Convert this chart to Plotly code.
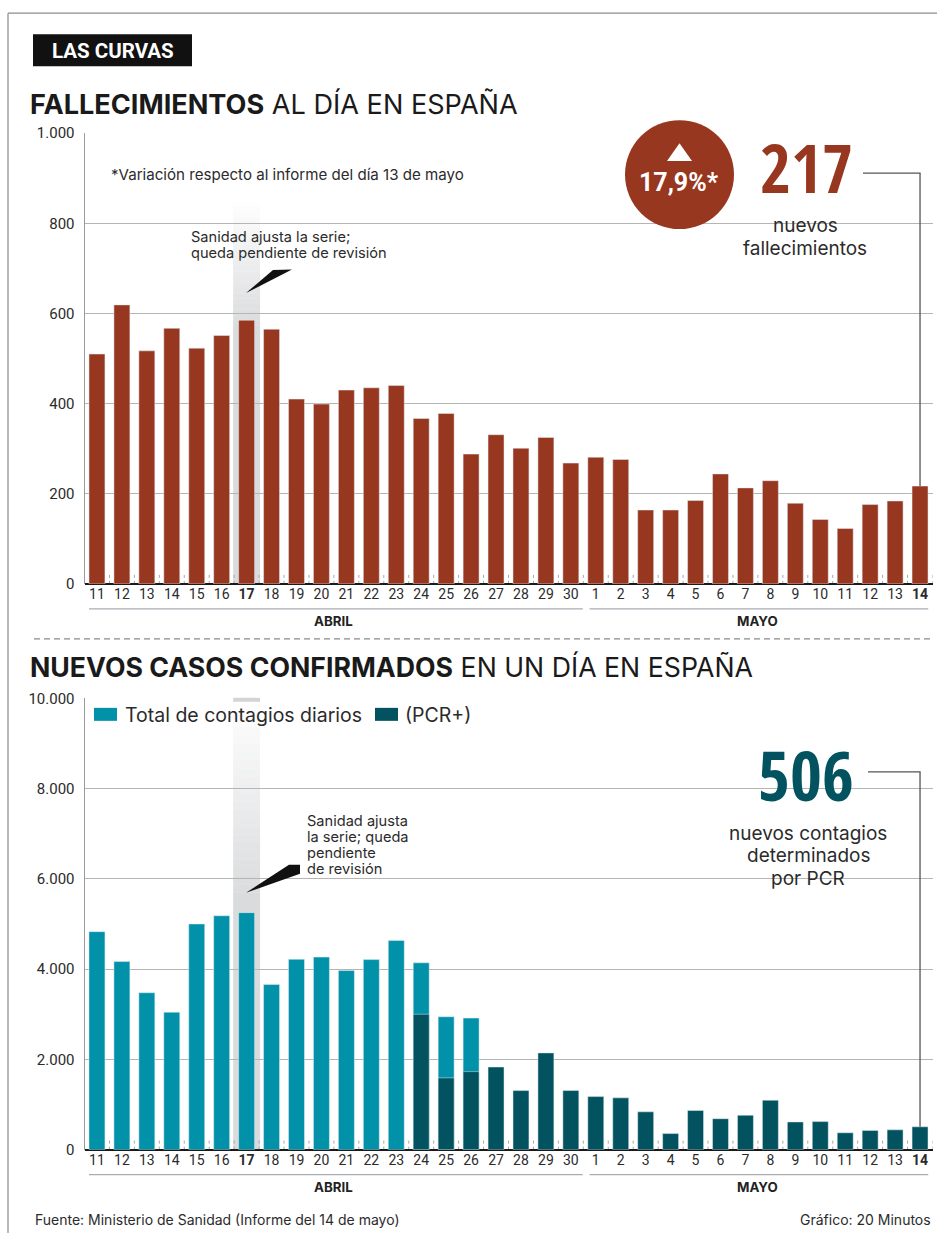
import plotly.graph_objects as go

W, H = 937, 1242

# ---------------- data ----------------
days = ["11", "12", "13", "14", "15", "16", "17", "18", "19", "20", "21", "22", "23",
        "24", "25", "26", "27", "28", "29", "30",
        "1", "2", "3", "4", "5", "6", "7", "8", "9", "10", "11", "12", "13", "14"]
bold_idx = [6, 33]
months = ["ABRIL", "MAYO"]
month_span = [(0, 19), (20, 33)]

deaths = [510, 619, 517, 567, 523, 551, 585, 565, 410, 399, 430, 435, 440, 367, 378, 288,
          331, 301, 325, 268, 281, 276, 164, 164, 185, 244, 213, 229, 179, 143, 123, 176,
          184, 217]

total_cases = [4830, 4167, 3477, 3045, 5000, 5183, 5252, 3658, 4218, 4266, 3968, 4211,
               4635, 4140, 2944, 2915] + [None] * 18
pcr_cases = [None] * 13 + [3000, 1590, 1729, 1831, 1308, 2144, 1309, 1175, 1147, 838,
                           356, 867, 685, 762, 1095, 614, 621, 373, 426, 439, 506]

deaths_ticks = [0, 200, 400, 600, 800, 1000]
deaths_ticktext = ["0", "200", "400", "600", "800", "1.000"]
cases_ticks = [0, 2000, 4000, 6000, 8000, 10000]
cases_ticktext = ["0", "2.000", "4.000", "6.000", "8.000", "10.000"]

RED = "#97371f"
TEAL = "#0191a8"
DTEAL = "#02535f"
TXT = "#2b2b2b"
GRID = "#b5b5b5"
FONT = "Inter, Roboto, 'Open Sans', sans-serif"
TICKFONT = "Roboto, 'Open Sans', sans-serif"
BIG = ("'Noto Sans ExtraCondensed', 'Open Sans Condensed', 'Noto Sans Condensed', "
       "'Roboto Condensed', 'Liberation Sans Narrow', Roboto, sans-serif")

# vertical placement calibration (page pixel -> paper)
OFF, SC = 7.8, 0.986


def px(x):
    return x / W


def py(y):
    return 1 - ((y - OFF) / SC) / H


n = len(days)
xs = list(range(n))
ticktext = [f"<b>{d}</b>" if i in bold_idx else d for i, d in enumerate(days)]

fig = go.Figure()
fig.add_trace(go.Bar(x=xs, y=deaths, marker_color=RED, width=0.64, showlegend=False,
                     xaxis="x", yaxis="y", name="Fallecimientos"))
fig.add_trace(go.Bar(x=xs, y=total_cases, marker_color=TEAL, width=0.64, showlegend=False,
                     xaxis="x2", yaxis="y2", name="Total de contagios diarios"))
fig.add_trace(go.Bar(x=xs, y=pcr_cases, marker_color=DTEAL, width=0.64, showlegend=False,
                     xaxis="x2", yaxis="y2", name="(PCR+)"))

XDOM = [px(84.5), px(932.5)]
TOP_PX, TOP_BASE = 132, 583
BOT_PX, BOT_BASE = 697.5, 1149
top_dom = [py(TOP_BASE), py(TOP_PX)]
bot_dom = [py(BOT_BASE), py(BOT_PX)]

common_x = dict(domain=XDOM, range=[-0.5, n - 0.5], tickmode="array", tickvals=xs,
                ticktext=ticktext, showgrid=False, zeroline=False, showline=False,
                ticks="", tickfont=dict(size=14, color=TXT, family=TICKFONT), fixedrange=True)
common_y = dict(gridcolor=GRID, gridwidth=1, showline=True, linecolor="#9a9a9a", linewidth=1,
                zeroline=True, zerolinecolor="#1a1a1a", zerolinewidth=2, ticks="",
                ticklabelstandoff=6, tickfont=dict(size=15, color=TXT, family=TICKFONT),
                fixedrange=True, tickmode="array")

fig.update_layout(
    width=W, height=H, autosize=False,
    margin=dict(l=0, r=0, t=0, b=0),
    paper_bgcolor="white", plot_bgcolor="rgba(0,0,0,0)",
    barmode="overlay", font=dict(family=FONT, color=TXT),
    xaxis=dict(common_x, anchor="y"),
    yaxis=dict(common_y, domain=top_dom, range=[0, 1000], tickvals=deaths_ticks,
               ticktext=deaths_ticktext, anchor="x"),
    xaxis2=dict(common_x, anchor="y2"),
    yaxis2=dict(common_y, domain=bot_dom, range=[0, 10000], tickvals=cases_ticks,
                ticktext=cases_ticktext, anchor="x2"),
)

shapes = []
annotations = []


def text(t, x, y, size, color=TXT, family=FONT, xanchor="left", weight=None, xref="paper"):
    f = dict(family=family, size=size, color=color)
    if weight:
        f["weight"] = weight
    annotations.append(dict(text=t, xref=xref, yref="paper", x=px(x) if xref == "paper" else x,
                            y=py(y), xanchor=xanchor, yanchor="middle", showarrow=False, font=f))


# outer frame
shapes.append(dict(type="line", xref="paper", yref="paper", x0=px(8), x1=1, y0=py(12), y1=py(12),
                   line=dict(color="#8c8c8c", width=1.2)))
shapes.append(dict(type="line", xref="paper", yref="paper", x0=px(8), x1=px(8), y0=py(12), y1=0,
                   line=dict(color="#8c8c8c", width=1.2)))

# header box
shapes.append(dict(type="rect", xref="paper", yref="paper", x0=px(33), x1=px(192), y0=py(65),
                   y1=py(33), fillcolor="#111111", line=dict(width=0)))
text("<b>LAS CURVAS</b>", 112.5, 49.5, 20.5, color="white", family="Roboto, sans-serif",
     xanchor="center")

# titles
text("<b>FALLECIMIENTOS</b> AL DÍA EN ESPAÑA", 28, 103, 27.1, color="#1a1a1a")
text("<b>NUEVOS CASOS CONFIRMADOS</b> EN UN DÍA EN ESPAÑA", 28, 666, 26.7, color="#1a1a1a")


# highlight band for day 17 (gradient made of slices)
def band(xref, top_px, fade_end_px, bottom_px, top_strip=False):
    steps = 24
    grey = (218, 219, 221)
    seg = (fade_end_px - top_px) / steps
    for k in range(steps):
        t = (k + 0.5) / steps
        c = tuple(int(255 + (g - 255) * t) for g in grey)
        shapes.append(dict(type="rect", xref=xref, yref="paper", x0=5.46, x1=6.54,
                           y0=py(top_px + seg * (k + 1) + 0.3), y1=py(top_px + seg * k),
                           fillcolor=f"rgb{c}", line=dict(width=0), layer="below"))
    shapes.append(dict(type="rect", xref=xref, yref="paper", x0=5.46, x1=6.54,
                       y0=py(bottom_px), y1=py(fade_end_px), fillcolor=f"rgb{grey}",
                       line=dict(width=0), layer="below"))
    if top_strip:
        shapes.append(dict(type="rect", xref=xref, yref="paper", x0=5.46, x1=6.54,
                           y0=py(701), y1=py(697), fillcolor="#d4d4d6",
                           line=dict(width=0), layer="below"))


band("x", 200, 330, TOP_BASE)
band("x2", 701, 900, BOT_BASE, top_strip=True)

# dotted separators at baseline
for k in range(n):
    xk = k + 0.5
    shapes.append(dict(type="line", xref="x", yref="y", x0=xk, x1=xk, y0=0, y1=26,
                       line=dict(color="#a8a8a8", width=1, dash="dot"), layer="below"))
    shapes.append(dict(type="line", xref="x2", yref="y2", x0=xk, x1=xk, y0=0, y1=260,
                       line=dict(color="#a8a8a8", width=1, dash="dot"), layer="below"))

# month group lines and labels
for (a, b), m in zip(month_span, months):
    x0 = a - 0.32 if a == 0 else a - 0.25
    x1 = b + 0.48 if b == 19 else b + 0.33
    for xr, yl, yt in (("x", 608, 620), ("x2", 1174, 1186)):
        shapes.append(dict(type="line", xref=xr, yref="paper", x0=x0, x1=x1, y0=py(yl), y1=py(yl),
                           line=dict(color="#a9adb3", width=1.3)))
        text(f"<b>{m}</b>", (a + b) / 2, yt, 13.3, color="#222", xanchor="center", xref=xr)

# dashed separator
shapes.append(dict(type="line", xref="paper", yref="paper", x0=px(34), x1=px(930), y0=py(638),
                   y1=py(638), line=dict(color="#8a8a8a", width=1.2, dash="6px,4px")))

# variation note
text("*Variación respecto al informe del día 13 de mayo", 109, 173, 15.1)

# Sanidad notes and wedges
for i, line in enumerate(["Sanidad ajusta la serie;", "queda pendiente de revisión"]):
    text(line, 188.5, 236 + 16 * i, 14.6)
shapes.append(dict(type="path", xref="paper", yref="paper",
                   path=f"M{px(246)},{py(292)} L{px(273)},{py(269)} L{px(292)},{py(268.5)} Z",
                   fillcolor="#111", line=dict(width=0)))
for i, line in enumerate(["Sanidad ajusta", "la serie; queda", "pendiente", "de revisión"]):
    text(line, 304.5, 820 + 16 * i, 14.6)
shapes.append(dict(type="path", xref="paper", yref="paper",
                   path=f"M{px(246)},{py(892)} L{px(289)},{py(864)} L{px(300)},{py(864)} "
                        f"L{px(300)},{py(873)} Z",
                   fillcolor="#111", line=dict(width=0)))

# circle with variation
shapes.append(dict(type="circle", xref="paper", yref="paper", x0=px(625), x1=px(734), y0=py(228),
                   y1=py(119), fillcolor=RED, line=dict(width=0)))
shapes.append(dict(type="path", xref="paper", yref="paper",
                   path=f"M{px(667)},{py(160)} L{px(679.5)},{py(142)} L{px(692)},{py(160)} Z",
                   fillcolor="white", line=dict(width=0)))
text("<b>17,9%*</b>", 679, 181, 25, color="white", family="Roboto, sans-serif", xanchor="center")

# big numbers
text(f"{deaths[-1]}", 806, 166, 67, color=RED, family=BIG, xanchor="center", weight=800)
text("nuevos", 805, 224.5, 19, xanchor="center")
text("fallecimientos", 805, 247, 19, xanchor="center")
text(f"{pcr_cases[-1]}", 806, 773, 69, color=DTEAL, family=BIG, xanchor="center", weight=800)
text("nuevos contagios", 808, 832.5, 19, xanchor="center")
text("determinados", 808, 855, 19, xanchor="center")
text("por PCR", 808, 878, 19, xanchor="center")


# connector lines to last bar
def y_from_px(pix, top_px, bot_px, vmax):
    return (bot_px - pix) / (bot_px - top_px) * vmax


shapes.append(dict(type="line", xref="paper", yref="paper", x0=px(863), x1=px(920.5), y0=py(172),
                   y1=py(172), line=dict(color="#555", width=1.3)))
shapes.append(dict(type="line", xref="x", yref="y", x0=n - 1, x1=n - 1, y0=deaths[-1],
                   y1=y_from_px(172, TOP_PX, TOP_BASE, 1000), line=dict(color="#555", width=1.3)))
shapes.append(dict(type="line", xref="paper", yref="paper", x0=px(868), x1=px(920.5), y0=py(771),
                   y1=py(771), line=dict(color="#555", width=1.3)))
shapes.append(dict(type="line", xref="x2", yref="y2", x0=n - 1, x1=n - 1, y0=pcr_cases[-1],
                   y1=y_from_px(771, BOT_PX, BOT_BASE, 10000), line=dict(color="#555", width=1.3)))

# custom legend
for (x0, x1, col, label, tx) in ((94, 117, TEAL, "Total de contagios diarios", 123),
                                 (375, 398, DTEAL, "(PCR+)", 403)):
    shapes.append(dict(type="rect", xref="paper", yref="paper", x0=px(x0), x1=px(x1), y0=py(720),
                       y1=py(707), fillcolor=col, line=dict(width=0)))
    text(label, tx, 714, 19.5)

# footer
text("Fuente: Ministerio de Sanidad (Informe del 14 de mayo)", 33, 1219, 14)
text("Gráfico: 20 Minutos", 933, 1219, 14, xanchor="right")

fig.update_layout(shapes=shapes, annotations=annotations)
fig.write_html("out.html", config={"displayModeBar": False})
